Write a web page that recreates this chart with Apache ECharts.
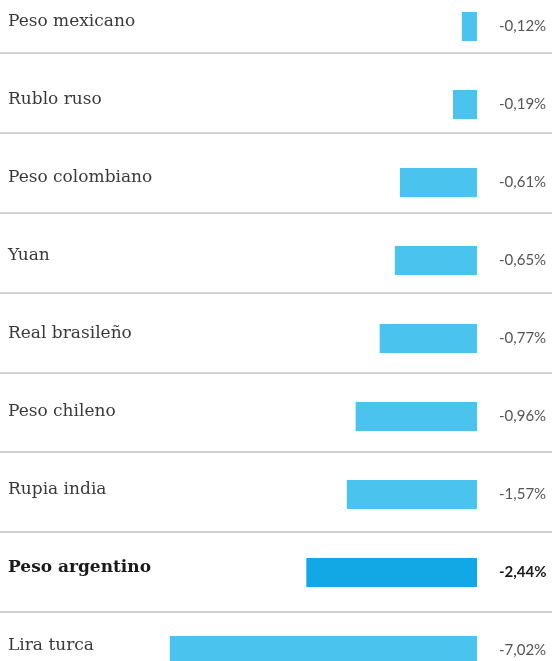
<!DOCTYPE html>
<html>
<head>
<meta charset="utf-8">
<script src="https://cdn.jsdelivr.net/npm/echarts@6/dist/echarts.min.js"></script>
<style>
  html, body { margin: 0; padding: 0; background: #fff; }
  #chart { width: 555px; height: 661px; }
</style>
</head>
<body>
<div id="chart"></div>
<script>
const currencies = ['Peso mexicano', 'Rublo ruso', 'Peso colombiano', 'Yuan', 'Real brasileño',
  'Peso chileno', 'Rupia india', 'Peso argentino', 'Lira turca']
const changes = [-0.12, -0.19, -0.61, -0.65, -0.77, -0.96, -1.57, -2.44, -7.02]
const highlight = 'Peso argentino'

const barColor = '#4ac4ef'
const highlightColor = '#12a7e5'

// the original squeezes the long bars, so the value axis gets breaks
const axisBreaks = [
  { start: -1.55, end: -1.0, gap: 0.01 },
  { start: -2.4, end: -1.6, gap: 0.25 },
  { start: -6.9, end: -2.5, gap: 0.9 }
]

const fmt = v => v.toFixed(2).replace('.', ',') + '%'

const chart = echarts.init(document.getElementById('chart'), null, { renderer: 'canvas' })

chart.setOption({
  animation: false,
  grid: [
    // rows run past the bottom edge, like in the original
    { left: 8, right: 78, top: -12.5, height: 702, outerBoundsMode: 'none' },
    { left: 0, right: 3, top: -26.9, height: 718.7, outerBoundsMode: 'none' }
  ],
  xAxis: [
    { type: 'value', gridIndex: 0, min: -8.3, max: 0, show: false, breaks: axisBreaks, breakArea: { show: false } },
    { type: 'value', gridIndex: 1, show: false }
  ],
  yAxis: [
    {
      type: 'category',
      gridIndex: 0,
      inverse: true,
      data: currencies,
      axisLine: { show: false },
      axisTick: { show: false },
      splitLine: { show: false },
      axisLabel: {
        interval: 0,
        align: 'left',
        margin: 0,
        padding: [0, 0, 10, 0],
        fontFamily: 'DejaVu Serif',
        fontSize: 17,
        color: '#3a3a3a',
        formatter: v => (v === highlight ? '{b|' + v + '}' : v),
        rich: {
          b: { fontFamily: 'DejaVu Serif', fontSize: 17, fontWeight: 'bold', color: '#1a1a1a' }
        }
      }
    },
    {
      type: 'category',
      gridIndex: 1,
      inverse: true,
      data: currencies,
      axisLine: { show: false },
      axisTick: { show: false },
      axisLabel: { show: false },
      splitLine: { show: true, interval: 0, lineStyle: { color: '#c2c2c2', width: 1.5 } }
    }
  ],
  series: [
    {
      type: 'bar',
      xAxisIndex: 0,
      yAxisIndex: 0,
      barWidth: 29,
      data: changes.map((v, i) => {
        const hi = currencies[i] === highlight
        return {
          value: v,
          itemStyle: { color: hi ? highlightColor : barColor },
          label: hi ? { fontWeight: 'bold', color: '#1a1a1a' } : {}
        }
      }),
      label: {
        show: true,
        position: 'right',
        distance: 22,
        fontFamily: 'Lato',
        fontSize: 15,
        color: '#555',
        formatter: p => fmt(p.value)
      }
    }
  ]
})
</script>
</body>
</html>
